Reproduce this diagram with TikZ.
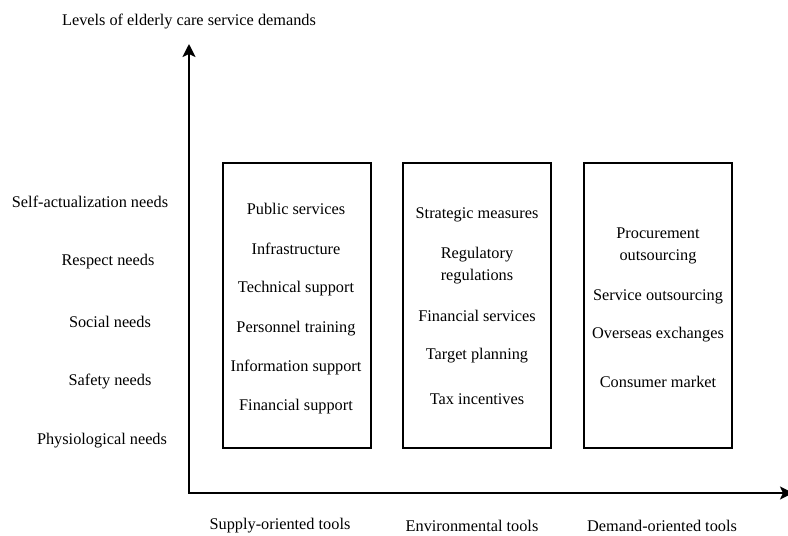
\documentclass[tikz,border=0pt]{standalone}
\usepackage{fontspec}
\setmainfont{Liberation Serif}
\usetikzlibrary{arrows.meta}
\tikzset{
    toolbox/.style={draw, line width=1.3pt, minimum width=148pt, minimum height=285pt, inner sep=0pt},
    item/.style={font=\fontsize{16.3}{22}\selectfont, align=center, inner sep=0pt, yshift=-1.5pt},
    axisline/.style={line width=2pt, arrows = {Stealth[length=13pt,width=13pt,inset=3pt]-Stealth[length=13pt,width=13pt,inset=3pt]}}
}

\begin{document}
\begin{tikzpicture}[x=1pt,y=-1pt]
                    \clip (0,0) rectangle (788,536);
%                    axes
                    \coordinate (origin) at (189,493);
                    \coordinate (ytip) at (189,44);
                    \coordinate (xtip) at (793,493);
                    \draw[axisline] (ytip) -- (origin) -- (xtip);
                    \node[item] (ytitle) at (189,20) {Levels of elderly care service demands};

%                    levels
                    \node[item] (need5) at (90,200) {Self-actualization needs};
                    \node[item] (need4) at (108,260) {Respect needs};
                    \node[item] (need3) at (110,320) {Social needs};
                    \node[item] (need2) at (110,380) {Safety needs};
                    \node[item] (need1) at (102,439) {Physiological needs};

%                    boxes
                    \node[toolbox] (supply) at (297,305.5) {};
                    \node[toolbox] (environ) at (477,305.5) {};
                    \node[toolbox] (demand) at (658,305.5) {};

                    \node[item] (s1) at (296,207) {Public services};
                    \node[item] (s2) at (296,247) {Infrastructure};
                    \node[item] (s3) at (296,287) {Technical support};
                    \node[item] (s4) at (296,327) {Personnel training};
                    \node[item] (s5) at (296,366) {Information support};
                    \node[item] (s6) at (296,405) {Financial support};

                    \node[item] (e1) at (477,213) {Strategic measures};
                    \node[item] (e2) at (477,264) {Regulatory\\regulations};
                    \node[item] (e3) at (477,314) {Financial services};
                    \node[item] (e4) at (477,354) {Target planning};
                    \node[item] (e5) at (477,398) {Tax incentives};

                    \node[item] (d1) at (658,244) {Procurement\\outsourcing};
                    \node[item] (d2) at (658,295) {Service outsourcing};
                    \node[item] (d3) at (658,333) {Overseas exchanges};
                    \node[item] (d4) at (658,380) {Consumer market};

%                    tools
                    \node[item] (supplylabel) at (280,524.5) {Supply-oriented tools};
                    \node[item] (environlabel) at (472,524.5) {Environmental tools};
                    \node[item] (demandlabel) at (662,524.5) {Demand-oriented tools};

                \end{tikzpicture}
\end{document}
